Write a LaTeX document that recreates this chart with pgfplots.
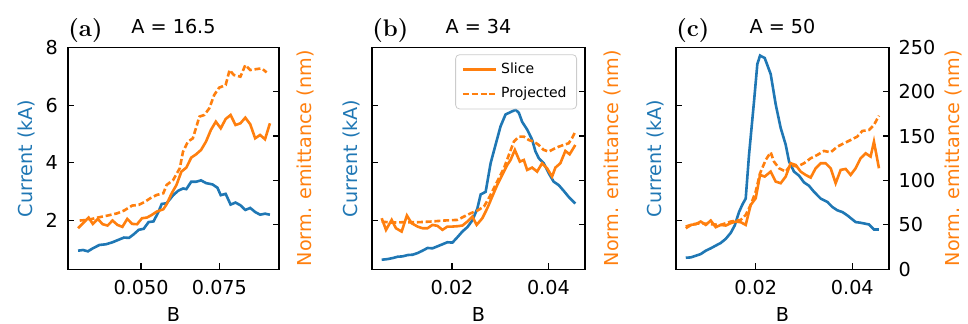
\documentclass[border=0pt]{standalone}
\usepackage{fontspec}
\setsansfont{DejaVu Sans}
\usepackage{pgfplots}
\pgfplotsset{compat=1.18}
\definecolor{mblue}{HTML}{1F77B4}
\definecolor{morange}{HTML}{FF7F0E}
\newcommand{\fs}{\fontsize{9.6}{11}\sffamily}
\pgfplotsset{
  base/.style={scale only axis, height=111pt, font=\fs,
    tick align=inside, major tick length=3pt,
    tick style={black, line width=0.6pt}, axis line style={line width=0.6pt},
    /pgf/number format/assume math mode=true,
    ticklabel style={font=\fs},
    xticklabel style={anchor=north, yshift=-1.8pt},
    scaled ticks=false},
  L/.style={base, xtick pos=left, ytick pos=left, ymin=0.3, ymax=8.02, ytick={2,4,6,8},
    yticklabel style={xshift=-1.5pt},
    ylabel={Current (kA)}, xlabel={B},
    xlabel style={at={(axis description cs:0.5,0)}, anchor=base, yshift=-26.2pt},
    every axis y label/.style={rotate=90, anchor=base, text=mblue, font=\fs}},
  R/.style={base, axis x line=none, axis y line*=right, ymin=0, ymax=250, ytick={0,50,...,250},
    yticklabel style={xshift=1.3pt},
    ylabel={Norm. emittance (nm)},
    every axis y label/.style={rotate=90, anchor=base, text=morange, font=\fs}},
  bl/.style={mblue, line width=1.3pt},
  os/.style={morange, line width=1.3pt},
  od/.style={morange, line width=1.3pt, dash pattern=on 3pt off 1.4pt},
}
\newcommand{\paneltitle}[3]{%
  \node[font=\fs, anchor=base] at ([yshift=7pt]#1.north) {#2};
  \node[font=\fontsize{12}{14}\rmfamily\bfseries, anchor=base west, inner sep=0pt] at ([yshift=5.5pt]#1.north west) {#3};}
\begin{document}
\begin{tikzpicture}
% ---------------- (a)
\begin{axis}[L, name=pa, at={(34pt,27.35pt)}, anchor=south west, width=105.5pt,
  xmin=0.0267, xmax=0.0940, xtick={0.050,0.075},
  xticklabel style={/pgf/number format/.cd, fixed, fixed zerofill, precision=3},
  ylabel style={at={(axis description cs:-0.1706,0.5)}}]
\addplot[bl] coordinates {(0.02992,0.947)(0.03149,0.971)(0.03305,0.924)(0.03462,1.029)(0.03672,1.146)(0.03881,1.170)(0.0409,1.240)(0.04247,1.310)(0.04456,1.404)(0.04613,1.392)(0.0477,1.520)(0.04927,1.673)(0.05084,1.708)(0.05241,1.942)(0.05397,1.965)(0.05554,2.292)(0.05659,2.573)(0.05816,2.596)(0.06025,2.877)(0.06182,3.029)(0.06339,3.111)(0.06444,3.088)(0.06601,3.345)(0.06757,3.345)(0.06914,3.392)(0.07071,3.298)(0.0728,3.251)(0.07437,3.135)(0.07542,2.877)(0.07699,2.924)(0.07856,2.550)(0.08013,2.620)(0.0817,2.526)(0.08326,2.363)(0.08483,2.433)(0.0864,2.292)(0.08797,2.199)(0.08954,2.234)(0.09111,2.199)};
\end{axis}
\paneltitle{pa}{A = 16.5}{(a)}
\begin{axis}[R, at={(34pt,27.35pt)}, anchor=south west, width=105.5pt,
  xmin=0.0267, xmax=0.0940, yticklabels={},
  ylabel style={at={(axis description cs:1.156,0.5)}}]
\addplot[os] coordinates {(0.02992,46.25)(0.03149,51.9)(0.03326,58.25)(0.03462,51.1)(0.03619,56.75)(0.03776,50.75)(0.03933,49.25)(0.0409,54.9)(0.04247,50)(0.04404,47.75)(0.04561,56.75)(0.04718,51.1)(0.04874,50.75)(0.05031,57.5)(0.05188,58.25)(0.05345,61.25)(0.05502,65)(0.05711,67.6)(0.05816,73.25)(0.05973,85.25)(0.0613,95)(0.06287,110)(0.06444,114.5)(0.06601,125.75)(0.06757,129.5)(0.06914,134.4)(0.07071,143.75)(0.07228,156.9)(0.07385,166.25)(0.07542,158.75)(0.07699,169.25)(0.07856,173.75)(0.08013,162.5)(0.0817,164.4)(0.08326,170.75)(0.08483,163.25)(0.0864,147.5)(0.08797,151.25)(0.08954,146.4)(0.09111,164.4)};
\addplot[od] coordinates {(0.03044,54.9)(0.03305,55.6)(0.03619,58.25)(0.03933,60.5)(0.04247,63.1)(0.04456,66.1)(0.04718,71.75)(0.04927,72.5)(0.05136,76.25)(0.05293,80)(0.05502,83.75)(0.05711,85.6)(0.05816,95)(0.06025,100.6)(0.06234,113.75)(0.06339,132.5)(0.06496,143.75)(0.06653,147.5)(0.06862,171.9)(0.07019,173.75)(0.07176,181.25)(0.07333,196.25)(0.0749,204.5)(0.07699,207.5)(0.07824,224.4)(0.0796,218.75)(0.0817,216.9)(0.08326,230)(0.08483,224.4)(0.08692,225.5)(0.08849,226.25)(0.09006,221.75)};
\end{axis}
% ---------------- (b)
\begin{axis}[L, name=pb, at={(186pt,27.35pt)}, anchor=south west, width=106.5pt,
  xmin=0.00337, xmax=0.0476, xtick={0.02,0.04}, yticklabels={},
  xticklabel style={/pgf/number format/.cd, fixed, fixed zerofill, precision=2},
  ylabel style={at={(axis description cs:-0.0704,0.5)}}]
\addplot[bl] coordinates {(0.00538,0.632)(0.00662,0.655)(0.00766,0.690)(0.00869,0.737)(0.00972,0.749)(0.01076,0.795)(0.01179,0.807)(0.01283,0.865)(0.01386,0.947)(0.0149,1.041)(0.01593,1.029)(0.01697,1.099)(0.018,1.170)(0.01903,1.240)(0.02007,1.228)(0.0211,1.415)(0.02214,1.614)(0.02317,1.766)(0.02421,2.0)(0.02524,2.409)(0.02593,2.901)(0.02697,2.994)(0.028,3.988)(0.02903,4.632)(0.03007,5.275)(0.0311,5.684)(0.03214,5.766)(0.03317,5.848)(0.03386,5.743)(0.03455,5.427)(0.03559,5.158)(0.03662,4.807)(0.03731,4.398)(0.038,4.164)(0.03903,3.988)(0.04007,3.637)(0.0411,3.345)(0.04214,3.228)(0.04317,3.029)(0.04421,2.819)(0.04559,2.585)};
\end{axis}
\paneltitle{pb}{A = 34}{(b)}
\begin{axis}[R, at={(186pt,27.35pt)}, anchor=south west, width=106.5pt,
  xmin=0.00337, xmax=0.0476, yticklabels={},
  ylabel style={at={(axis description cs:1.155,0.5)}},
  legend style={at={(axis description cs:1,1)}, xshift=-4pt, yshift=-3.5pt, anchor=north east,
    font=\fontsize{7}{9}\sffamily, draw=black!20, rounded corners=2pt, fill=white, fill opacity=0.8, text opacity=1,
    row sep=1.5pt, inner xsep=3pt, inner ysep=2pt},
  legend cell align=left,
  legend image code/.code={\draw[#1] (0pt,0pt) -- (16.5pt,0pt);}]
\addplot[os] coordinates {(0.00538,57.5)(0.00628,44.4)(0.00745,55.6)(0.00834,46.25)(0.00952,42.5)(0.01062,60.5)(0.01159,51.9)(0.01283,48.1)(0.01386,46.25)(0.0149,46.25)(0.01593,50)(0.01697,48.9)(0.018,44.4)(0.01903,48.1)(0.02007,48.1)(0.0211,48.5)(0.02214,49.25)(0.02317,53.75)(0.02421,59.4)(0.0251,50)(0.02628,57.5)(0.02731,68.75)(0.02834,81.9)(0.02938,95)(0.03041,106.25)(0.03145,117.5)(0.03214,123.1)(0.03303,134.4)(0.03407,121.25)(0.0349,123.1)(0.03559,111.9)(0.03662,114.5)(0.03766,110)(0.03869,119.4)(0.03972,113.75)(0.04076,104.4)(0.04145,114.5)(0.04248,119.4)(0.04352,133.25)(0.04441,129.5)(0.04559,140)};
\addlegendentry{Slice}
\addplot[od] coordinates {(0.00538,53.75)(0.00731,52.6)(0.01007,53)(0.01283,53)(0.01559,53.75)(0.01834,54.9)(0.0211,55.6)(0.02248,59.4)(0.02386,63.1)(0.02524,66.1)(0.02662,70.6)(0.028,83.75)(0.02938,98.75)(0.03076,113.75)(0.03179,128.75)(0.03283,143.75)(0.03386,149.4)(0.0349,149.4)(0.03593,145.6)(0.03697,143.75)(0.038,140)(0.03903,134.4)(0.04007,132.5)(0.0411,135.5)(0.04214,138.1)(0.04317,140)(0.04421,141.9)(0.0449,147.5)(0.04559,155)};
\addlegendentry{Projected}
\end{axis}
% ---------------- (c)
\begin{axis}[L, name=pc, at={(338pt,27.35pt)}, anchor=south west, width=106.5pt,
  xmin=0.0035, xmax=0.0476, xtick={0.02,0.04}, yticklabels={},
  xticklabel style={/pgf/number format/.cd, fixed, fixed zerofill, precision=2},
  ylabel style={at={(axis description cs:-0.0704,0.5)}}]
\addplot[bl] coordinates {(0.00552,0.702)(0.00655,0.713)(0.00759,0.772)(0.00862,0.830)(0.00966,0.947)(0.01069,1.029)(0.01172,1.123)(0.01276,1.216)(0.01379,1.357)(0.01483,1.567)(0.01566,1.825)(0.01655,2.292)(0.01724,2.550)(0.01793,2.760)(0.01862,4.281)(0.01966,6.152)(0.02034,7.439)(0.0209,7.731)(0.02186,7.649)(0.0231,7.088)(0.02414,6.035)(0.02517,5.216)(0.02621,4.632)(0.0269,4.047)(0.02793,3.696)(0.02897,3.556)(0.03,3.322)(0.03103,3.205)(0.03207,2.994)(0.03345,2.760)(0.03483,2.643)(0.03586,2.468)(0.0369,2.351)(0.03793,2.292)(0.03897,2.175)(0.04069,1.942)(0.04172,1.918)(0.04345,1.860)(0.04448,1.684)(0.04552,1.684)};
\end{axis}
\paneltitle{pc}{A = 50}{(c)}
\begin{axis}[R, at={(338pt,27.35pt)}, anchor=south west, width=106.5pt,
  xmin=0.0035, xmax=0.0476,
  ylabel style={at={(axis description cs:1.329,0.5)}}]
\addplot[os] coordinates {(0.00552,48.1)(0.00655,50)(0.00759,50.75)(0.00862,53.75)(0.00966,50)(0.01069,54.9)(0.01172,47.4)(0.01276,50)(0.01379,49.25)(0.01483,51.9)(0.01586,53.75)(0.0169,53)(0.01793,50)(0.01897,72.5)(0.02,80)(0.0209,106.25)(0.02186,104.4)(0.0231,110)(0.02414,98.75)(0.02517,96.9)(0.02621,104.4)(0.02724,119.4)(0.02828,117.5)(0.02931,110)(0.03034,106.25)(0.03138,103.25)(0.03241,113.75)(0.03345,119.4)(0.03448,119.4)(0.03552,113.75)(0.03655,96.9)(0.03759,111.9)(0.03862,113)(0.03966,106.25)(0.04069,113.75)(0.04172,125)(0.04276,130.6)(0.04379,126.9)(0.04448,143.75)(0.04552,113.75)};
\addplot[od] coordinates {(0.00552,46.25)(0.0069,50.75)(0.00862,51.9)(0.01069,50.75)(0.01276,50)(0.01483,53.75)(0.0169,55.6)(0.01793,61.25)(0.01897,72.5)(0.02,87.5)(0.0209,108.1)(0.02207,123.1)(0.0231,131.75)(0.02379,121.25)(0.02483,113.75)(0.02621,110)(0.02724,117.5)(0.02862,115.6)(0.03,119.4)(0.03138,125)(0.03276,128.75)(0.03414,133.25)(0.03552,131.75)(0.0369,138.1)(0.03828,141.9)(0.03966,145.6)(0.04103,149.4)(0.04207,155.75)(0.04345,156.9)(0.04448,162.5)(0.04552,173)};
\end{axis}
\pgfresetboundingbox
\path[use as bounding box] (0,0) rectangle (484pt,162pt);
\end{tikzpicture}
\end{document}
